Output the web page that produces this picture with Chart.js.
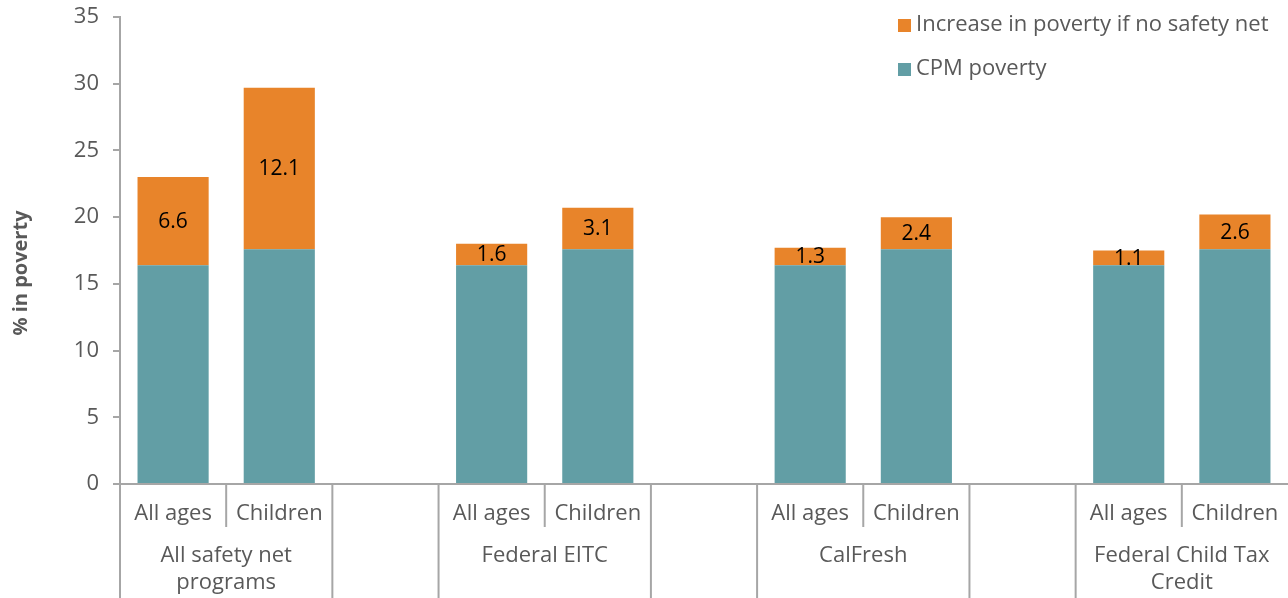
<!DOCTYPE html>
<html>
<head>
<meta charset="utf-8">
<script src="https://cdn.jsdelivr.net/npm/chart.js@4.4.1/dist/chart.umd.min.js"></script>
<style>
  html, body { margin: 0; padding: 0; background: #fff; }
  #wrap { width: 1288px; height: 598px; }
</style>
</head>
<body>
<div id="wrap"><canvas id="povertyChart"></canvas></div>
<script>
// --- data ---
const subLabels = ['All ages', 'Children', '', 'All ages', 'Children', '', 'All ages', 'Children', '', 'All ages', 'Children'];
const groupLabels = [['All safety net', 'programs'], ['Federal EITC'], ['CalFresh'], ['Federal Child Tax', 'Credit']];
const cpmPoverty = [16.4, 17.6, null, 16.4, 17.6, null, 16.4, 17.6, null, 16.4, 17.6];
const increaseNoNet = [6.6, 12.1, null, 1.6, 3.1, null, 1.3, 2.4, null, 1.1, 2.6];
const yTicks = [0, 5, 10, 15, 20, 25, 30, 35];

const FONT = '"Open Sans", Lato, sans-serif';
const TEXT = '#595959';
const AXIS = '#a6a6a6';
const TEAL = '#629ea5';
const ORANGE = '#e8842a';

// custom drawing: x axis grouping, value labels, legend, y title
const extras = {
  id: 'extras',
  afterDatasetsDraw(chart) {
    const ctx = chart.ctx;
    const x = chart.scales.x;
    const area = chart.chartArea;
    const bottom = area.bottom;
    ctx.save();

    // value labels inside orange segments
    const meta = chart.getDatasetMeta(1);
    ctx.font = '21px ' + FONT;
    ctx.fillStyle = '#000';
    ctx.textAlign = 'center';
    ctx.textBaseline = 'middle';
    meta.data.forEach((bar, i) => {
      const v = increaseNoNet[i];
      if (v == null) return;
      ctx.fillText(v.toFixed(1), bar.x, (bar.y + bar.base) / 2 + 1);
    });

    // x axis line
    ctx.strokeStyle = AXIS;
    ctx.lineWidth = 2;
    ctx.beginPath();
    ctx.moveTo(area.left - 7, bottom);
    ctx.lineTo(area.right, bottom);
    ctx.stroke();

    // separators
    const n = subLabels.length;
    for (let i = 0; i < n; i++) {
      const bx = i === 0 ? area.left : (x.getPixelForValue(i - 1) + x.getPixelForValue(i)) / 2;
      const short = subLabels[i] === 'Children';
      ctx.beginPath();
      ctx.moveTo(bx, bottom);
      ctx.lineTo(bx, short ? bottom + 43 : chart.height);
      ctx.stroke();
    }

    // group labels
    ctx.fillStyle = TEXT;
    ctx.font = '22px ' + FONT;
    ctx.textBaseline = 'middle';
    groupLabels.forEach((lines, g) => {
      const cx = (x.getPixelForValue(g * 3) + x.getPixelForValue(g * 3 + 1)) / 2;
      lines.forEach((t, k) => ctx.fillText(t, cx, bottom + 72 + k * 27));
    });

    // y axis title
    ctx.translate(21, 273);
    ctx.rotate(-Math.PI / 2);
    ctx.font = 'bold 20px ' + FONT;
    ctx.fillText('% in poverty', 0, 0);
    ctx.restore();

    // legend (top item = top of stack)
    ctx.save();
    ctx.font = '22px ' + FONT;
    ctx.textAlign = 'left';
    ctx.textBaseline = 'middle';
    const items = chart.data.datasets.slice().reverse();
    items.forEach((ds, k) => {
      const ly = 25 + k * 44;
      ctx.fillStyle = ds.backgroundColor;
      ctx.fillRect(898, ly - 6, 13, 13);
      ctx.fillStyle = TEXT;
      ctx.fillText(ds.label, 916, ly);
    });
    ctx.restore();
  }
};

new Chart(document.getElementById('povertyChart'), {
  type: 'bar',
  data: {
    labels: subLabels,
    datasets: [
      { label: 'CPM poverty', data: cpmPoverty, backgroundColor: TEAL, stack: 's' },
      { label: 'Increase in poverty if no safety net', data: increaseNoNet, backgroundColor: ORANGE, stack: 's' }
    ]
  },
  options: {
    responsive: true,
    maintainAspectRatio: false,
    animation: false,
    layout: { padding: { top: 17, right: 0, left: 0, bottom: 0 } },
    plugins: { legend: { display: false }, tooltip: { enabled: false } },
    datasets: { bar: { categoryPercentage: 1, barPercentage: 0.67 } },
    scales: {
      x: {
        stacked: true,
        grid: { display: false },
        border: { display: false },
        ticks: { color: TEXT, font: { family: FONT, size: 22 }, padding: 9, maxRotation: 0, autoSkip: false },
        afterFit(scale) { scale.height = 114; scale.paddingLeft = 0; scale.paddingRight = 0; }
      },
      y: {
        stacked: true,
        min: 0,
        max: 35,
        afterBuildTicks(scale) { scale.ticks = yTicks.map(v => ({ value: v })); },
        grid: { drawOnChartArea: false, drawTicks: true, tickLength: 7, color: AXIS, lineWidth: 2 },
        border: { display: true, color: AXIS, width: 2 },
        ticks: { color: TEXT, font: { family: FONT, size: 22 }, padding: 14 },
        afterFit(scale) { scale.width = 120; scale.paddingTop = 0; scale.paddingBottom = 0; }
      }
    }
  },
  plugins: [extras]
});
</script>
</body>
</html>
